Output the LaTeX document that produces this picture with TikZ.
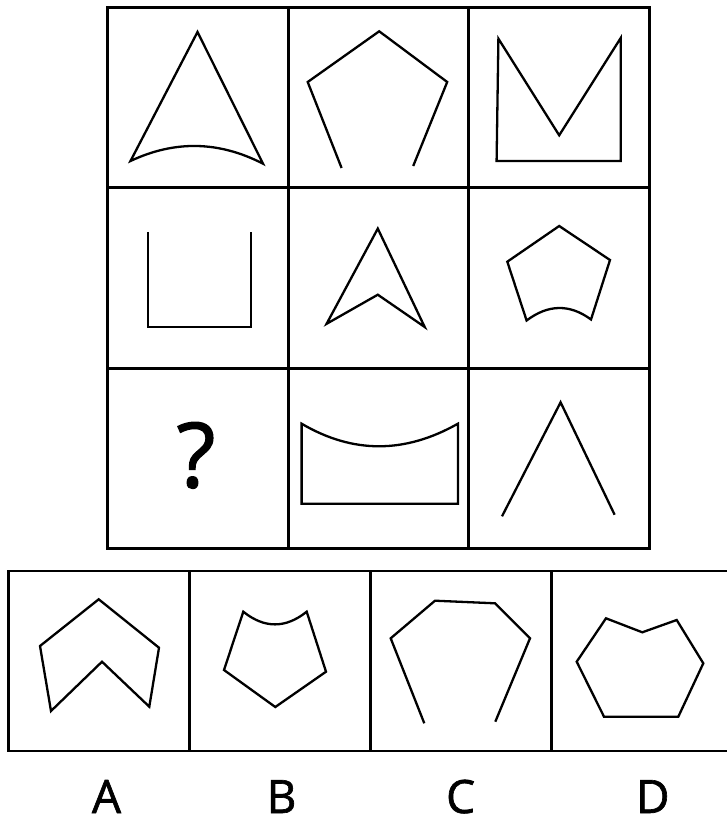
\documentclass[tikz,border=0pt]{standalone}
\usepackage{fontspec}
\setmainfont{Open Sans}
\newfontfamily\heavyfont[FakeBold=1.4]{Open Sans}
\begin{document}
\begin{tikzpicture}[x=1pt,y=-1pt,line join=miter,
  cell/.style={draw,line width=2.6pt,minimum width=180.5pt,minimum height=180.5pt,inner sep=0pt,outer sep=0pt},
  option/.style={draw,line width=2.6pt,minimum width=181pt,minimum height=180pt,inner sep=0pt,outer sep=0pt},
  fig/.style={line width=2.3pt},
  letter/.style={font=\heavyfont\fontsize{46}{50}\selectfont,anchor=base,inner sep=0pt,text depth=0pt}]
\useasboundingbox (0,0) rectangle (726,819);
% puzzle grid
\node[cell] (r1c1) at (198,97.75) {};
\node[cell] (r1c2) at (378.5,97.75) {};
\node[cell] (r1c3) at (559.25,97.75) {};
\node[cell] (r2c1) at (198,278) {};
\node[cell] (r2c2) at (378.5,278) {};
\node[cell] (r2c3) at (559.25,278) {};
\node[cell] (r3c1) at (198,458.5) {};
\node[cell] (r3c2) at (378.5,458.5) {};
\node[cell] (r3c3) at (559.25,458.5) {};
% row 1
\draw[fig] (197.5,32) -- (263,163.7) .. controls (219,141) and (174.8,140.1) .. (130.5,161) -- cycle;
\draw[fig] (341.6,168) -- (307.7,82) -- (379.2,31.3) -- (447.2,82) -- (413.2,166);
\draw[fig] (498.4,38.7) -- (559.2,135.3) -- (620.7,38) -- (620.7,161) -- (496.6,161) -- cycle;
% row 2
\draw[fig] (147.7,231.9) -- (147.7,327) -- (251.1,327) -- (251.1,231.9);
\draw[fig] (377.8,228.6) -- (424.7,327) -- (377.8,294.7) -- (326.6,323.8) -- cycle;
\draw[fig] (559.2,226) -- (610,260) -- (591,319.5) .. controls (569.7,303.8) and (548.2,304.2) .. (526.6,320.5) -- (507.3,261.7) -- cycle;
% row 3
\node[font=\heavyfont\fontsize{90}{95}\selectfont,anchor=base,inner sep=0pt] (qmark) at (196,487.3) {?};
\draw[fig] (301.6,423.7) .. controls (352.9,453.8) and (404.6,453.8) .. (457.9,423.7) -- (457.9,503.7) -- (301.6,503.7) -- cycle;
\draw[fig] (502,516.3) -- (560.6,402.3) -- (614.6,514.7);
% answer options
\node[option] (optA) at (99,661) {};
\node[option] (optB) at (280,661) {};
\node[option] (optC) at (461,661) {};
\node[option] (optD) at (642,661) {};
\draw[fig] (98.7,599.3) -- (159,647.7) -- (149.3,706.7) -- (102,661.7) -- (51,711) -- (40,646) -- cycle;
\draw[fig] (243.3,611.7) .. controls (264.4,628.6) and (285.6,628.6) .. (306.7,611.7) -- (326,671.7) -- (275.3,707) -- (224,670) -- cycle;
\draw[fig] (424.3,723.3) -- (390.7,638.3) -- (435,600.7) -- (495,603.3) -- (530,638.3) -- (495.3,721.7);
\draw[fig] (576.7,661.7) -- (606,618.3) -- (642.3,632.3) -- (676.7,620) -- (703.3,663.3) -- (678.3,716.7) -- (604,716.7) -- cycle;
% labels
\node[letter] (labA) at (106.5,813) {A};
\node[letter] (labB) at (281.5,813) {B};
\node[letter] (labC) at (460.6,813) {C};
\node[letter] (labD) at (652.8,813) {D};
\end{tikzpicture}
\end{document}
